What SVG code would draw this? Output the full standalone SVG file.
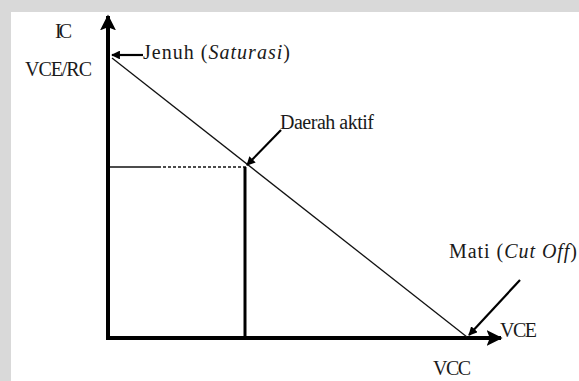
<svg xmlns="http://www.w3.org/2000/svg" width="579" height="381" viewBox="0 0 579 381">
<style>
text{font-family:"Liberation Serif","Times New Roman",serif;font-size:20px;fill:#1a1a1a}
.it{font-style:italic}
.axis{stroke:#000;stroke-width:4;fill:none}
.thin{stroke:#111;stroke-width:1.3;fill:none}
.ptr{stroke:#000;stroke-width:2.2;fill:none}
</style>
<defs>
<marker id="ah" viewBox="0 0 10 10" refX="9" refY="5" markerWidth="4" markerHeight="4" orient="auto" markerUnits="strokeWidth">
<path d="M0,0 L10,5 L0,10 z" fill="#000"/>
</marker>
<marker id="ax" viewBox="0 0 10 10" refX="9" refY="5" markerWidth="4" markerHeight="4" orient="auto" markerUnits="strokeWidth">
<path d="M0,0 L10,5 L0,10 L2,5 z" fill="#000"/>
</marker>
</defs>
<rect x="0" y="0" width="579" height="381" fill="#d9d9d9"/>
<rect x="11" y="12" width="568" height="369" fill="#fff"/>
<g id="connectors">
<line class="axis" x1="108" y1="340" x2="108" y2="16" marker-end="url(#ax)"/>
<line class="axis" x1="106" y1="338" x2="501" y2="338" marker-end="url(#ax)"/>
<line class="thin" x1="112" y1="58" x2="467" y2="337"/>
<line class="thin" x1="110" y1="167" x2="158" y2="167"/>
<line class="thin" x1="158" y1="167" x2="246" y2="167" stroke-dasharray="3,2"/>
<line x1="245" y1="167" x2="245" y2="338" stroke="#000" stroke-width="3"/>
<line class="ptr" x1="143" y1="55" x2="112" y2="55" marker-end="url(#ah)"/>
<line class="ptr" x1="281" y1="130" x2="247" y2="165" marker-end="url(#ah)"/>
<line class="ptr" x1="520" y1="280" x2="469" y2="335" marker-end="url(#ah)"/>
</g>
<g id="label-ic"><text x="55" y="38" textLength="17">IC</text></g>
<g id="label-vcerc"><text x="25" y="76" textLength="67">VCE/RC</text></g>
<g id="node-jenuh"><text x="143" y="59" textLength="147">Jenuh (<tspan class="it">Saturasi</tspan>)</text></g>
<g id="node-aktif"><text x="280" y="129" textLength="94">Daerah aktif</text></g>
<g id="node-mati"><text x="449" y="258" textLength="128">Mati (<tspan class="it">Cut Off</tspan>)</text></g>
<g id="label-vce"><text x="500" y="337" textLength="37">VCE</text></g>
<g id="label-vcc"><text x="433" y="375" textLength="38">VCC</text></g>
</svg>
